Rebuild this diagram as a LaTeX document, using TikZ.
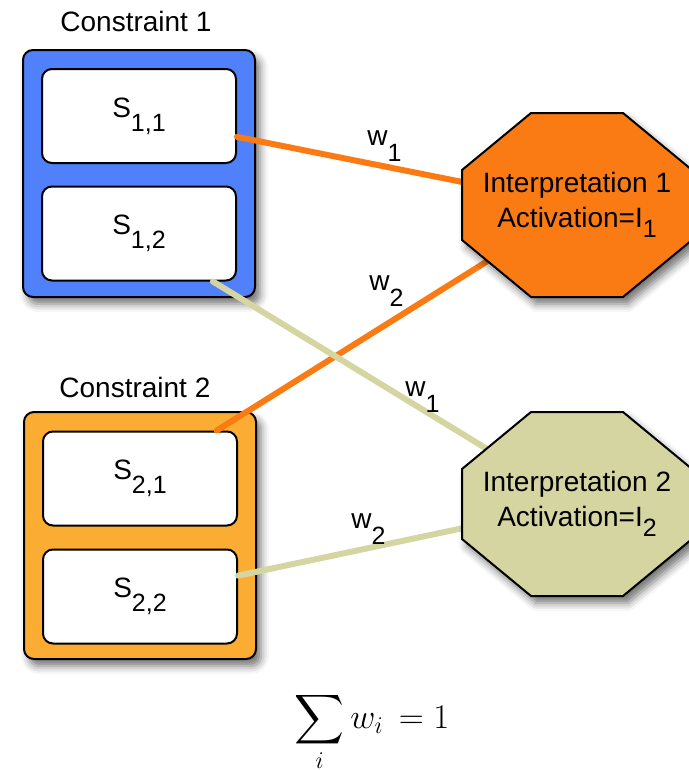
\documentclass[tikz,border=0pt]{standalone}
\usepackage{amsmath}
\usepackage{fontspec}
\setsansfont{Liberation Sans}
\usetikzlibrary{shadows.blur}

\definecolor{conblue}{RGB}{80,128,250}
\definecolor{conorange}{RGB}{251,173,51}
\definecolor{intorange}{RGB}{250,122,20}
\definecolor{inttan}{RGB}{212,213,160}

\newcommand\sub[2][7pt]{\raisebox{-#1}{\fontsize{12.5}{13}\selectfont #2}}
\newcommand\octagon[1]{(#1) ++(-46,-92) -- ++(92,0) -- ++(69,57) -- ++(0,70) -- ++(-69,57) -- ++(-92,0) -- ++(-69,-57) -- ++(0,-70) -- cycle}

\tikzset{
  softshadow/.style={blur shadow={shadow xshift=2.5pt, shadow yshift=-3.5pt, shadow blur radius=4pt, shadow opacity=55}},
  conbox/.style={draw, line width=1pt, rounded corners=5pt, minimum width=116pt, minimum height=123.5pt, softshadow},
  sbox/.style={draw, fill=white, line width=1pt, rounded corners=5pt, minimum width=97pt, minimum height=47pt, font=\sffamily\fontsize{14}{17}\selectfont},
  octo/.style={draw, line width=1pt, line join=miter, softshadow},
  inttext/.style={align=center, inner sep=0pt, font=\sffamily\fontsize{14}{17.5}\selectfont},
  wire/.style={line width=3pt, line cap=round},
  wlabel/.style={inner sep=0pt, anchor=base west, font=\sffamily\fontsize{14}{17}\selectfont},
  title/.style={inner sep=0pt, anchor=base west, font=\sffamily\fontsize{14}{17}\selectfont}
}

\begin{document}
\begin{tikzpicture}[x=0.5pt, y=-0.5pt]

\useasboundingbox (0,0) rectangle (689,771);

\coordinate (int1) at (577,205);
\coordinate (int2) at (577,504);

% constraint 1
\node[title] (con1title) at (60,32) {Constraint 1};
\node[conbox, fill=conblue] (con1) at (139,173.5) {};
\node[sbox] (s11) at (139,116) {S\sub{1,1}};
\node[sbox] (s12) at (139,233.5) {S\sub{1,2}};

% constraint 2
\node[title] (con2title) at (59,397) {Constraint 2};
\node[conbox, fill=conorange] (con2) at (140,535.5) {};
\node[sbox] (s21) at (140,478.5) {S\sub{2,1}};
\node[sbox] (s22) at (140,596.5) {S\sub{2,2}};

% weights
\draw[wire, intorange] (s11.-12) -- (int1);
\draw[wire, intorange] (s21.32) -- (int1);
\draw[wire, inttan] (s12.-33) -- (int2);
\draw[wire, inttan] (s22.12) -- (int2);

\node[wlabel] (w11) at (367,145) {w\sub[8pt]{1}};
\node[wlabel] (w12) at (369,290) {w\sub[8pt]{2}};
\node[wlabel] (w21) at (405,396) {w\sub[8pt]{1}};
\node[wlabel] (w22) at (351,528) {w\sub[8pt]{2}};

% interpretations
\draw[octo, fill=intorange] \octagon{int1};
\draw[octo, fill=inttan] \octagon{int2};
\node[inttext] (int1text) at (int1) {Interpretation 1\\Activation=I\sub[5pt]{1}};
\node[inttext] (int2text) at (int2) {Interpretation 2\\Activation=I\sub[5pt]{2}};

\node (sum) at (372,732) {\fontsize{18}{22}\selectfont$\displaystyle\sum_i w_i \,= 1$};

\end{tikzpicture}
\end{document}
